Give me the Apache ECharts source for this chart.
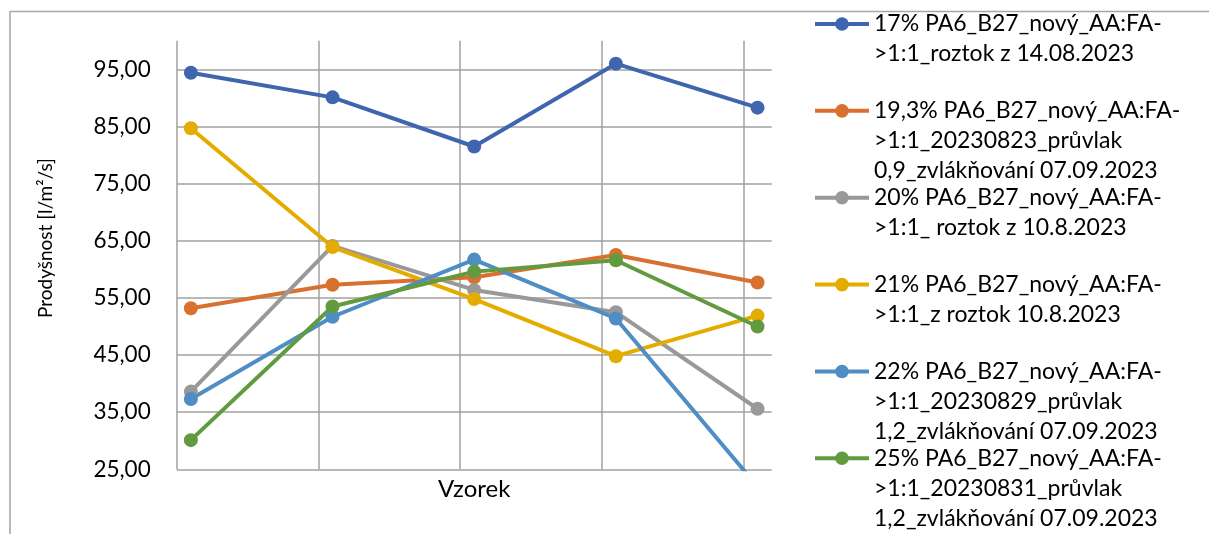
<!DOCTYPE html>
<html>
<head>
<meta charset="utf-8">
<script src="https://cdn.jsdelivr.net/npm/echarts@6/dist/echarts.min.js"></script>
<style>
  html, body { margin: 0; padding: 0; background: #fff; }
  #chart { width: 1209px; height: 534px; }
</style>
</head>
<body>
<div id="chart"></div>
<script>
// Sample positions along the horizontal axis
const samples = ['1', '2', '3', '4', '5'];

// Legend text of each series, one entry per printed line
const label17 = ['17% PA6_B27_nový_AA:FA-', '>1:1_roztok z 14.08.2023'];
const label193 = ['19,3% PA6_B27_nový_AA:FA-', '>1:1_20230823_průvlak', '0,9_zvlákňování 07.09.2023'];
const label20 = ['20% PA6_B27_nový_AA:FA-', '>1:1_ roztok z 10.8.2023'];
const label21 = ['21% PA6_B27_nový_AA:FA-', '>1:1_z roztok 10.8.2023'];
const label22 = ['22% PA6_B27_nový_AA:FA-', '>1:1_20230829_průvlak', '1,2_zvlákňování 07.09.2023'];
const label25 = ['25% PA6_B27_nový_AA:FA-', '>1:1_20230831_průvlak', '1,2_zvlákňování 07.09.2023'];

// Air permeability [l/m2/s] per sample
const values17 = [94.4, 90.1, 81.5, 96.0, 88.3];
const values193 = [53.2, 57.3, 58.6, 62.5, 57.7];
const values20 = [38.6, 64.1, 56.4, 52.5, 35.6];
const values21 = [84.7, 63.9, 54.8, 44.8, 51.9];
const values22 = [37.3, 51.7, 61.7, 51.4, 22.0];
const values25 = [30.1, 53.5, 59.6, 61.6, 50.0];

// Value axis ticks
const yMin = 25, yMax = 100, yStep = 10;

const FONT = 'Lato, "Open Sans", sans-serif';
const colors = ['#4065AF', '#D8712F', '#999999', '#E5AC00', '#4F8DC5', '#629A3F'];
const seriesDefs = [
  [label17, values17], [label193, values193], [label20, values20],
  [label21, values21], [label22, values22], [label25, values25]
];

const series = seriesDefs.map(([lines, vals], i) => ({
  name: lines.join('\n'),
  type: 'line',
  xAxisIndex: 1,
  data: samples.map((s, k) => [k, vals[k]]),
  symbol: 'circle',
  symbolSize: 14,
  clip: true,
  color: colors[i],
  lineStyle: { width: 4, color: colors[i] },
  itemStyle: { color: colors[i] },
  emphasis: { disabled: true }
}));

// One legend block per series, stacked down the right side.
// Leading blank lines keep the first text line level with the icon.
const LINE_H = 30;
const legends = seriesDefs.map(([lines], i) => {
  const iconY = 24 + i * 86.86;
  const n = lines.length;
  const blockH = (2 * n - 1) * LINE_H;
  return {
    orient: 'vertical',
    left: 813,
    top: iconY - blockH / 2,
    padding: 0,
    itemWidth: 54,
    itemHeight: 17,
    selectedMode: false,
    data: [lines.join('\n')],
    formatter: name => '\n'.repeat(n - 1) + name,
    lineStyle: { width: 4 },
    textStyle: { fontFamily: FONT, fontSize: 23, color: '#000', lineHeight: LINE_H }
  };
});

const chart = echarts.init(document.getElementById('chart'), null, { renderer: 'canvas' });
chart.setOption({
  animation: false,
  backgroundColor: '#fff',
  grid: { left: 176.7, right: 437.3, top: 40.8, bottom: 64.7, containLabel: false },
  xAxis: [
    {
      type: 'value', min: 0, max: 4.2, interval: 1,
      name: 'Vzorek', nameLocation: 'middle', nameGap: 8,
      nameTextStyle: { fontFamily: FONT, fontSize: 24, color: '#000' },
      axisLine: { show: false }, axisTick: { show: false }, axisLabel: { show: false },
      splitLine: { show: true, showMaxLine: false, lineStyle: { color: '#a0a0a0', width: 1.5 } }
    },
    {
      type: 'value', min: -0.1, max: 4.1, show: false,
      splitLine: { show: false }
    }
  ],
  yAxis: {
    type: 'value', min: yMin, max: yMax, interval: yStep,
    name: 'Prodyšnost [l/m²/s]', nameLocation: 'middle', nameRotate: 90, nameGap: 121,
    nameTextStyle: { fontFamily: FONT, fontSize: 19, color: '#000', padding: [0, 0, 0, 34] },
    axisLine: { show: false }, axisTick: { show: false },
    axisLabel: {
      margin: 26, fontFamily: FONT, fontSize: 22.5, color: '#000',
      formatter: v => (v >= yMax ? '' : v.toFixed(2).replace('.', ','))
    },
    splitLine: { show: true, showMaxLine: false, lineStyle: { color: '#a0a0a0', width: 1.5 } }
  },
  legend: legends,
  series: series,
  graphic: [
    { type: 'line', shape: { x1: 9.5, y1: 11.5, x2: 1209, y2: 11.5 }, style: { stroke: '#a6a6a6', lineWidth: 1.3 }, silent: true },
    { type: 'line', shape: { x1: 10, y1: 11, x2: 10, y2: 534 }, style: { stroke: '#b8b8b8', lineWidth: 2 }, silent: true }
  ]
});
</script>
</body>
</html>
